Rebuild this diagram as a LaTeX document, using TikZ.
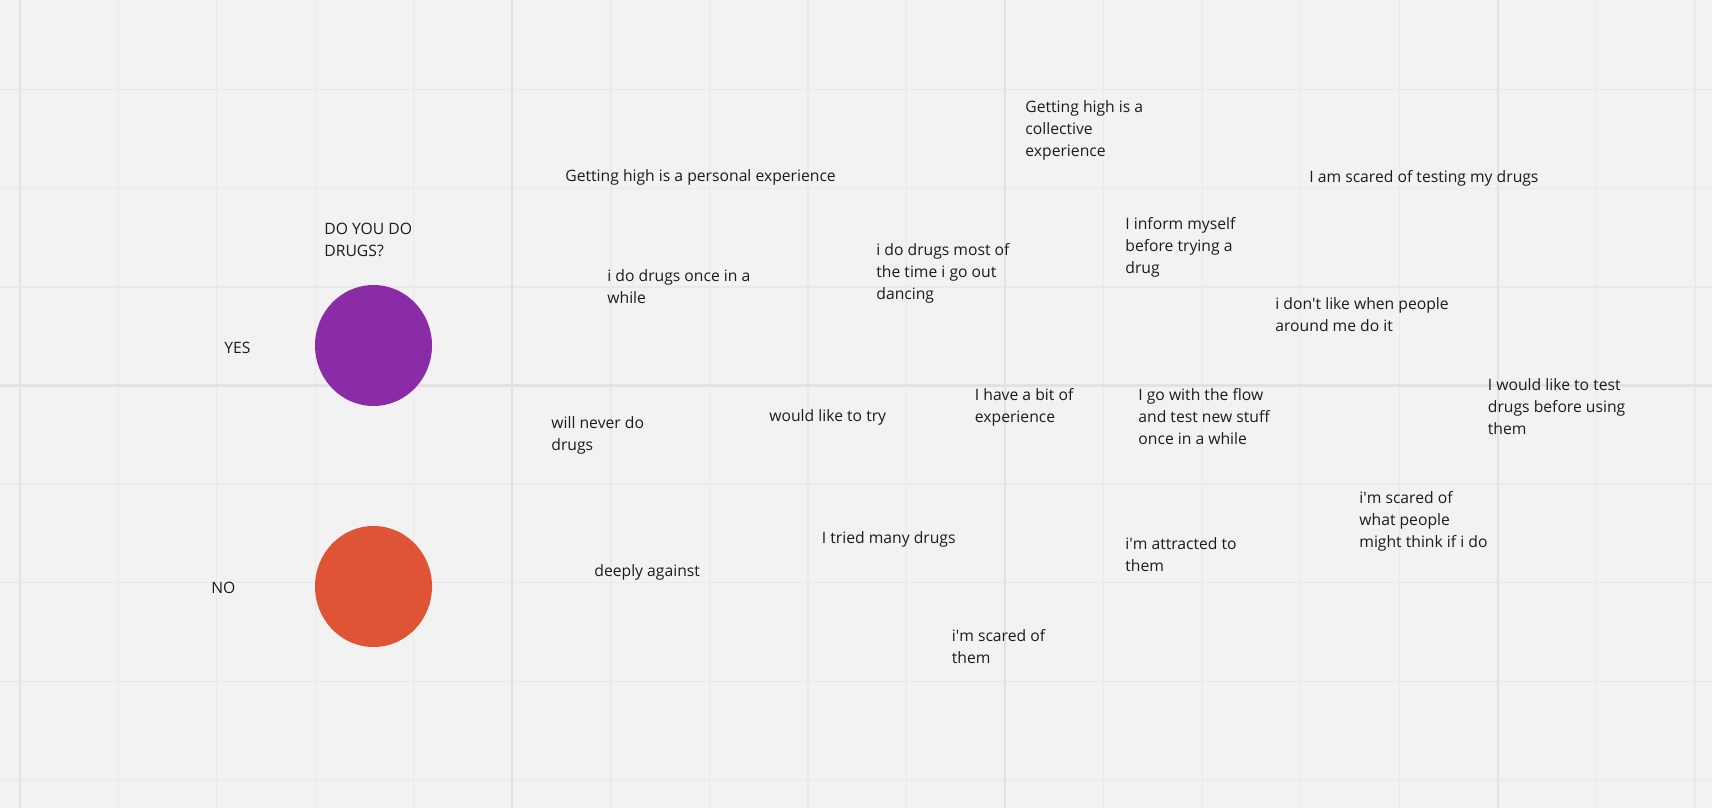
\documentclass[tikz,border=0pt]{standalone}
\usepackage{fontspec}
\setmainfont{Open Sans}
\usepackage{tikz}
\definecolor{board}{RGB}{242,242,242}
\definecolor{gridminor}{RGB}{233,233,233}
\definecolor{gridmajor}{RGB}{226,226,226}
\definecolor{ink}{RGB}{28,28,28}
\definecolor{yespurple}{RGB}{139,43,165}
\definecolor{noorange}{RGB}{223,84,53}
\tikzset{
  sticky/.style={anchor=north west,inner sep=0pt,align=left,text=ink,font=\fontsize{7.85}{11}\selectfont},
}
\newcommand{\q}{\textquotesingle}
\begin{document}
\begin{tikzpicture}[x=0.5pt,y=-0.5pt]
  \fill[board] (0,0) rectangle (1712,808);
  \useasboundingbox (0,0) rectangle (1712,808);
  \foreach \i in {0,...,17}
    \draw[gridminor,line width=0.6pt] ({19.6+\i*98.55},0) -- ({19.6+\i*98.55},808);
  \foreach \j in {1,...,8}
    \draw[gridminor,line width=0.6pt] (0,{-8.7+\j*98.55}) -- (1712,{-8.7+\j*98.55});
  \foreach \i in {0,5,10,15}
    \draw[gridmajor,line width=1.1pt] ({19.6+\i*98.55},0) -- ({19.6+\i*98.55},808);
  \draw[gridmajor,line width=1.1pt] (0,385.5) -- (1712,385.5);
  \fill[yespurple] (373.5,345.5) ellipse (58.5 and 60.5);
  \fill[noorange] (373.5,586.5) ellipse (58.5 and 60.5);
  \node[sticky] (question) at (324,222.8) {DO YOU DO\\DRUGS?};
  \node[sticky] (yes) at (224,341.8) {YES};
  \node[sticky] (no) at (211,581.8) {NO};
  \node[sticky] (personal) at (565,169) {Getting high is a personal experience};
  \node[sticky] (collective) at (1025,100) {Getting high is a\\collective\\experience};
  \node[sticky] (scaredtest) at (1309,170) {I am scared of testing my drugs};
  \node[sticky] (inform) at (1125,217) {I inform myself\\before trying a\\drug};
  \node[sticky] (oncewhile) at (607,269) {i do drugs once in a\\while};
  \node[sticky] (dancing) at (876,243) {i do drugs most of\\the time i go out\\dancing};
  \node[sticky] (dontlike) at (1275,297) {i don\q t like when people\\around me do it};
  \node[sticky] (bitof) at (974.5,388) {I have a bit of\\experience};
  \node[sticky] (flow) at (1138,388) {I go with the flow\\and test new stuff\\once in a while};
  \node[sticky] (testfirst) at (1487.5,378) {I would like to test\\drugs before using\\them};
  \node[sticky] (never) at (551,416) {will never do\\drugs};
  \node[sticky] (liketry) at (769,409) {would like to try};
  \node[sticky] (tried) at (821.5,531) {I tried many drugs};
  \node[sticky] (against) at (594,564) {deeply against};
  \node[sticky] (scaredpeople) at (1359,491) {i\q m scared of\\what people\\might think if i do};
  \node[sticky] (attracted) at (1125,537) {i\q m attracted to\\them};
  \node[sticky] (scaredthem) at (951.5,629) {i\q m scared of\\them};
\end{tikzpicture}
\end{document}
